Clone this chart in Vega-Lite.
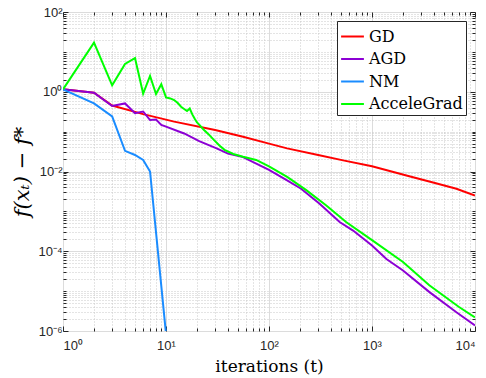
{
  "$schema": "https://vega.github.io/schema/vega-lite/v6.json",
  "width": 412,
  "height": 319,
  "autosize": {"type": "none"},
  "padding": {"left": 63, "top": 12, "right": 11, "bottom": 47},
  "background": "white",
  "config": {
    "view": {"stroke": "#262626", "strokeWidth": 1},
    "axis": {"domain": false}
  },
  "data": {
    "values": [
      {"alg": "GD", "t": 1, "f": 1.15},
      {"alg": "GD", "t": 2, "f": 0.95},
      {"alg": "GD", "t": 3, "f": 0.45},
      {"alg": "GD", "t": 6, "f": 0.275},
      {"alg": "GD", "t": 12, "f": 0.178},
      {"alg": "GD", "t": 30, "f": 0.11},
      {"alg": "GD", "t": 56, "f": 0.074},
      {"alg": "GD", "t": 100, "f": 0.05},
      {"alg": "GD", "t": 150, "f": 0.038},
      {"alg": "GD", "t": 300, "f": 0.026},
      {"alg": "GD", "t": 525, "f": 0.019},
      {"alg": "GD", "t": 1000, "f": 0.0135},
      {"alg": "GD", "t": 2300, "f": 0.0076},
      {"alg": "GD", "t": 4000, "f": 0.0052},
      {"alg": "GD", "t": 6600, "f": 0.0037},
      {"alg": "GD", "t": 10000, "f": 0.0025},
      {"alg": "AGD", "t": 1, "f": 1.15},
      {"alg": "AGD", "t": 2, "f": 0.95},
      {"alg": "AGD", "t": 3, "f": 0.44},
      {"alg": "AGD", "t": 4, "f": 0.51},
      {"alg": "AGD", "t": 5, "f": 0.29},
      {"alg": "AGD", "t": 6, "f": 0.32},
      {"alg": "AGD", "t": 7, "f": 0.195},
      {"alg": "AGD", "t": 8, "f": 0.2},
      {"alg": "AGD", "t": 9, "f": 0.148},
      {"alg": "AGD", "t": 10, "f": 0.133},
      {"alg": "AGD", "t": 15, "f": 0.09},
      {"alg": "AGD", "t": 21, "f": 0.058},
      {"alg": "AGD", "t": 31, "f": 0.038},
      {"alg": "AGD", "t": 40, "f": 0.028},
      {"alg": "AGD", "t": 56, "f": 0.023},
      {"alg": "AGD", "t": 100, "f": 0.011},
      {"alg": "AGD", "t": 147, "f": 0.0062},
      {"alg": "AGD", "t": 205, "f": 0.0037},
      {"alg": "AGD", "t": 310, "f": 0.00155},
      {"alg": "AGD", "t": 485, "f": 0.00054},
      {"alg": "AGD", "t": 655, "f": 0.00033},
      {"alg": "AGD", "t": 1000, "f": 0.00014},
      {"alg": "AGD", "t": 1380, "f": 0.000064},
      {"alg": "AGD", "t": 2000, "f": 0.000033},
      {"alg": "AGD", "t": 3640, "f": 0.0000093},
      {"alg": "AGD", "t": 6600, "f": 0.00000295},
      {"alg": "AGD", "t": 10000, "f": 0.00000138},
      {"alg": "NM", "t": 1, "f": 1.15},
      {"alg": "NM", "t": 2, "f": 0.51},
      {"alg": "NM", "t": 3, "f": 0.24},
      {"alg": "NM", "t": 4, "f": 0.033},
      {"alg": "NM", "t": 5, "f": 0.026},
      {"alg": "NM", "t": 6, "f": 0.0195},
      {"alg": "NM", "t": 7, "f": 0.01},
      {"alg": "NM", "t": 10, "f": 0.00000085},
      {"alg": "NM", "t": 11, "f": 1e-10},
      {"alg": "AcceleGrad", "t": 1, "f": 1.15},
      {"alg": "AcceleGrad", "t": 2, "f": 17},
      {"alg": "AcceleGrad", "t": 3, "f": 1.45},
      {"alg": "AcceleGrad", "t": 4, "f": 5.0},
      {"alg": "AcceleGrad", "t": 5, "f": 7.0},
      {"alg": "AcceleGrad", "t": 6, "f": 0.9},
      {"alg": "AcceleGrad", "t": 7, "f": 2.5},
      {"alg": "AcceleGrad", "t": 8, "f": 0.88},
      {"alg": "AcceleGrad", "t": 9, "f": 1.55},
      {"alg": "AcceleGrad", "t": 10, "f": 0.72},
      {"alg": "AcceleGrad", "t": 11, "f": 0.68},
      {"alg": "AcceleGrad", "t": 12, "f": 0.62},
      {"alg": "AcceleGrad", "t": 13, "f": 0.52},
      {"alg": "AcceleGrad", "t": 14, "f": 0.42},
      {"alg": "AcceleGrad", "t": 15, "f": 0.37},
      {"alg": "AcceleGrad", "t": 16, "f": 0.33},
      {"alg": "AcceleGrad", "t": 17, "f": 0.38},
      {"alg": "AcceleGrad", "t": 18, "f": 0.27},
      {"alg": "AcceleGrad", "t": 19, "f": 0.21},
      {"alg": "AcceleGrad", "t": 20, "f": 0.17},
      {"alg": "AcceleGrad", "t": 21, "f": 0.15},
      {"alg": "AcceleGrad", "t": 23, "f": 0.115},
      {"alg": "AcceleGrad", "t": 26, "f": 0.085},
      {"alg": "AcceleGrad", "t": 29, "f": 0.063},
      {"alg": "AcceleGrad", "t": 33, "f": 0.045},
      {"alg": "AcceleGrad", "t": 37, "f": 0.035},
      {"alg": "AcceleGrad", "t": 45, "f": 0.0275},
      {"alg": "AcceleGrad", "t": 56, "f": 0.0235},
      {"alg": "AcceleGrad", "t": 75, "f": 0.0195},
      {"alg": "AcceleGrad", "t": 100, "f": 0.0135},
      {"alg": "AcceleGrad", "t": 150, "f": 0.0073},
      {"alg": "AcceleGrad", "t": 230, "f": 0.0034},
      {"alg": "AcceleGrad", "t": 360, "f": 0.0014},
      {"alg": "AcceleGrad", "t": 560, "f": 0.00054},
      {"alg": "AcceleGrad", "t": 1000, "f": 0.00019},
      {"alg": "AcceleGrad", "t": 2000, "f": 0.000054},
      {"alg": "AcceleGrad", "t": 3600, "f": 0.000014},
      {"alg": "AcceleGrad", "t": 7000, "f": 0.000004},
      {"alg": "AcceleGrad", "t": 10000, "f": 0.0000022}
    ]
  },
  "resolve": {"axis": {"x": "independent", "y": "independent"}},
  "layer": [
    {
      "mark": {"type": "line", "strokeWidth": 2, "clip": true},
      "encoding": {
        "x": {
          "field": "t", "type": "quantitative",
          "scale": {"type": "log", "domain": [1, 10000], "nice": false},
          "axis": {
            "orient": "bottom",
            "values": [1,2,3,4,5,6,7,8,9,10,20,30,40,50,60,70,80,90,100,200,300,400,500,600,700,800,900,1000,2000,3000,4000,5000,6000,7000,8000,9000,10000],
            "labelExpr": "abs(log(datum.value)/LN10 - round(log(datum.value)/LN10)) < 0.001 ? ('10' + ['⁰','¹','²','³','⁴'][round(log(datum.value)/LN10)]) : ''",
            "labelOverlap": false,
            "labelFont": "Liberation Sans",
            "labelFontSize": 13,
            "labelColor": "#262626",
            "labelPadding": 13,
            "tickColor": "#262626",
            "tickSize": {"condition": {"test": "abs(log(datum.value)/LN10 - round(log(datum.value)/LN10)) < 0.001", "value": -5}, "value": -3},
            "grid": true,
            "gridColor": {"condition": {"test": "abs(log(datum.value)/LN10 - round(log(datum.value)/LN10)) < 0.001", "value": "#dcdcdc"}, "value": "#c8c8c8"},
            "gridDash": {"condition": {"test": "abs(log(datum.value)/LN10 - round(log(datum.value)/LN10)) < 0.001", "value": []}, "value": [1, 2]},
            "title": "iterations (t)",
            "titleFont": "DejaVu Serif, serif",
            "titleFontSize": 17,
            "titleFontWeight": "normal",
            "titleColor": "black",
            "titlePadding": 4
          }
        },
        "y": {
          "field": "f", "type": "quantitative",
          "scale": {"type": "log", "domain": [0.000001, 100], "nice": false},
          "axis": {
            "orient": "left",
            "values": [0.000001,0.000002,0.000003,0.000004,0.000005,0.000006,0.000007,0.000008,0.000009,0.00001,0.00002,0.00003,0.00004,0.00005,0.00006,0.00007,0.00008,0.00009,0.0001,0.0002,0.0003,0.0004,0.0005,0.0006,0.0007,0.0008,0.0009,0.001,0.002,0.003,0.004,0.005,0.006,0.007,0.008,0.009,0.01,0.02,0.03,0.04,0.05,0.06,0.07,0.08,0.09,0.1,0.2,0.3,0.4,0.5,0.6,0.7,0.8,0.9,1,2,3,4,5,6,7,8,9,10,20,30,40,50,60,70,80,90,100],
            "labelExpr": "abs(log(datum.value)/LN10 - round(log(datum.value)/LN10)) < 0.001 ? (round(log(datum.value)/LN10) == -6 ? '10⁻⁶' : round(log(datum.value)/LN10) == -4 ? '10⁻⁴' : round(log(datum.value)/LN10) == -2 ? '10⁻²' : round(log(datum.value)/LN10) == 0 ? '10⁰' : round(log(datum.value)/LN10) == 2 ? '10²' : '') : ''",
            "labelOverlap": false,
            "labelFont": "Liberation Sans",
            "labelFontSize": 13,
            "labelColor": "#262626",
            "labelPadding": 6,
            "tickColor": "#262626",
            "tickSize": {"condition": {"test": "abs(log(datum.value)/LN10 - round(log(datum.value)/LN10)) < 0.001 && round(log(datum.value)/LN10) % 2 == 0", "value": -5}, "value": -3},
            "grid": true,
            "gridColor": {"condition": {"test": "abs(log(datum.value)/LN10 - round(log(datum.value)/LN10)) < 0.001 && round(log(datum.value)/LN10) % 2 == 0", "value": "#dcdcdc"}, "value": "#c8c8c8"},
            "gridDash": {"condition": {"test": "abs(log(datum.value)/LN10 - round(log(datum.value)/LN10)) < 0.001 && round(log(datum.value)/LN10) % 2 == 0", "value": []}, "value": [1, 2]},
            "title": "f(xₜ) − f*",
            "titleFont": "DejaVu Serif, serif",
            "titleFontSize": 21,
            "titleFontStyle": "italic",
            "titleFontWeight": "normal",
            "titleColor": "black",
            "titlePadding": 5
          }
        },
        "color": {
          "field": "alg", "type": "nominal",
          "scale": {"domain": ["GD", "AGD", "NM", "AcceleGrad"], "range": ["#ff0000", "#8c00d4", "#1a8cff", "#00ff00"]},
          "legend": {
            "title": null,
            "orient": "top-right",
            "offset": 9,
            "fillColor": "white",
            "strokeColor": "#262626",
            "padding": 3,
            "symbolType": "stroke",
            "symbolSize": 520,
            "symbolStrokeWidth": 2,
            "labelFont": "DejaVu Serif, serif",
            "labelFontSize": 16,
            "labelColor": "black",
            "labelOffset": 4,
            "rowPadding": 1.5
          }
        }
      }
    },
    {
      "mark": {"type": "point", "opacity": 0, "size": 0},
      "encoding": {
        "x": {
          "field": "t", "type": "quantitative",
          "scale": {"type": "log", "domain": [1, 10000], "nice": false},
          "axis": {
            "orient": "top",
            "values": [1,2,3,4,5,6,7,8,9,10,20,30,40,50,60,70,80,90,100,200,300,400,500,600,700,800,900,1000,2000,3000,4000,5000,6000,7000,8000,9000,10000],
            "labels": false,
            "grid": false,
            "title": null,
            "tickColor": "#262626",
            "tickSize": {"condition": {"test": "abs(log(datum.value)/LN10 - round(log(datum.value)/LN10)) < 0.001", "value": -5}, "value": -3}
          }
        },
        "y": {
          "field": "f", "type": "quantitative",
          "scale": {"type": "log", "domain": [0.000001, 100], "nice": false},
          "axis": {
            "orient": "right",
            "values": [0.000001,0.000002,0.000003,0.000004,0.000005,0.000006,0.000007,0.000008,0.000009,0.00001,0.00002,0.00003,0.00004,0.00005,0.00006,0.00007,0.00008,0.00009,0.0001,0.0002,0.0003,0.0004,0.0005,0.0006,0.0007,0.0008,0.0009,0.001,0.002,0.003,0.004,0.005,0.006,0.007,0.008,0.009,0.01,0.02,0.03,0.04,0.05,0.06,0.07,0.08,0.09,0.1,0.2,0.3,0.4,0.5,0.6,0.7,0.8,0.9,1,2,3,4,5,6,7,8,9,10,20,30,40,50,60,70,80,90,100],
            "labels": false,
            "grid": false,
            "title": null,
            "tickColor": "#262626",
            "tickSize": {"condition": {"test": "abs(log(datum.value)/LN10 - round(log(datum.value)/LN10)) < 0.001 && round(log(datum.value)/LN10) % 2 == 0", "value": -5}, "value": -3}
          }
        }
      }
    }
  ]
}
